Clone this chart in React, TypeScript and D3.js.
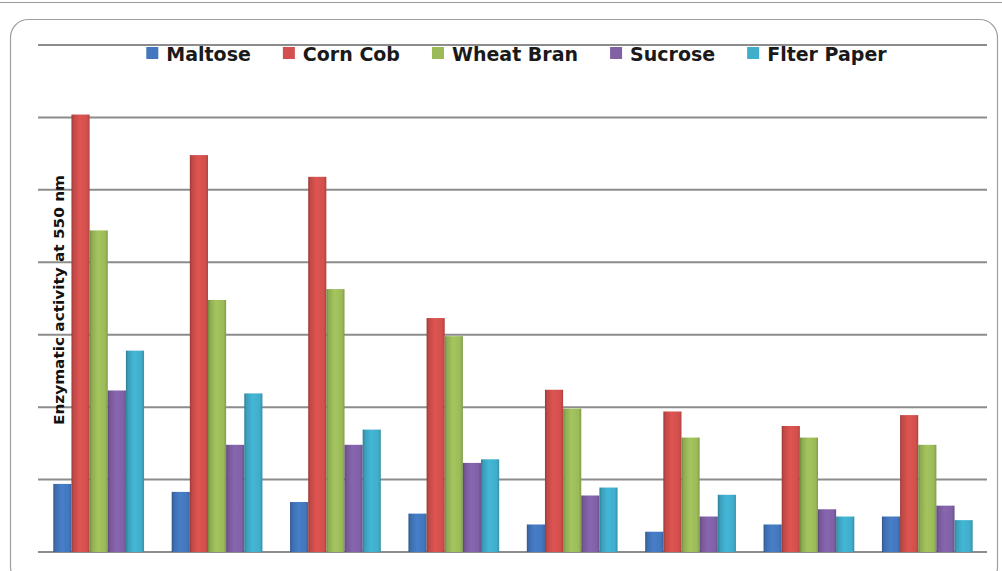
import React, { useEffect, useRef } from "react";
import * as d3 from "d3";

// Substrates tested (legend order / bar order within each group)
const series = ["Maltose", "Corn Cob", "Wheat Bran", "Sucrose", "Flter Paper"];
const seriesColors = ["#4377BE", "#D2504D", "#9BBB59", "#8061A6", "#40ADCB"];

// Eight sampling points along the x axis (unlabelled in the figure)
const groups = ["1", "2", "3", "4", "5", "6", "7", "8"];

// Enzymatic activity at 550 nm, one array per substrate
const maltose = [0.94, 0.83, 0.69, 0.53, 0.38, 0.28, 0.38, 0.49];
const cornCob = [6.04, 5.48, 5.18, 3.23, 2.24, 1.94, 1.74, 1.89];
const wheatBran = [4.44, 3.48, 3.63, 2.98, 1.98, 1.58, 1.58, 1.48];
const sucrose = [2.23, 1.48, 1.48, 1.23, 0.78, 0.49, 0.59, 0.64];
const filterPaper = [2.78, 2.19, 1.69, 1.28, 0.89, 0.79, 0.49, 0.44];

const values = [maltose, cornCob, wheatBran, sucrose, filterPaper];

// Horizontal gridline values
const gridTicks = [0, 1, 2, 3, 4, 5, 6, 7];

const W = 1002;
const H = 571;

export default function App() {
  const ref = useRef<SVGSVGElement | null>(null);

  useEffect(() => {
    const svg = d3.select(ref.current);
    svg.selectAll("*").remove();

    const left = 38;
    const right = 987;
    const top = 45;
    const bottom = 552;

    const defs = svg.append("defs");
    seriesColors.forEach((c, i) => {
      const base = d3.color(c)!;
      const g = defs
        .append("linearGradient")
        .attr("id", `bar-grad-${i}`)
        .attr("x1", "0")
        .attr("x2", "1")
        .attr("y1", "0")
        .attr("y2", "0");
      g.append("stop").attr("offset", "0").attr("stop-color", base.darker(0.9).formatHex());
      g.append("stop").attr("offset", "0.12").attr("stop-color", base.darker(0.25).formatHex());
      g.append("stop").attr("offset", "0.45").attr("stop-color", base.brighter(0.15).formatHex());
      g.append("stop").attr("offset", "0.85").attr("stop-color", base.formatHex());
      g.append("stop").attr("offset", "1").attr("stop-color", base.darker(0.5).formatHex());
    });

    // Frame: thin rule at the very top and a rounded chart border
    svg
      .append("line")
      .attr("x1", 0)
      .attr("x2", W)
      .attr("y1", 2.5)
      .attr("y2", 2.5)
      .attr("stroke", "#9a9a9a")
      .attr("stroke-width", 1.2);
    svg
      .append("rect")
      .attr("x", 10.5)
      .attr("y", 19.5)
      .attr("width", 987)
      .attr("height", 565)
      .attr("rx", 18)
      .attr("fill", "none")
      .attr("stroke", "#a0a0a0")
      .attr("stroke-width", 1.2);

    const x0 = d3.scaleBand<string>().domain(groups).range([left + 1.5, right - 0.5]).paddingInner(0).paddingOuter(0);
    const groupStep = x0.bandwidth();
    const barW = 18.15;
    const clusterW = barW * series.length;
    const x1 = d3
      .scaleBand<string>()
      .domain(series)
      .range([(groupStep - clusterW) / 2, (groupStep + clusterW) / 2])
      .padding(0);

    const y = d3.scaleLinear().domain([0, 7]).range([bottom, top]);

    // Gridlines
    svg
      .append("g")
      .selectAll("line")
      .data(gridTicks)
      .join("line")
      .attr("x1", left)
      .attr("x2", right)
      .attr("y1", (d) => y(d))
      .attr("y2", (d) => y(d))
      .attr("stroke", "#8c8c8c")
      .attr("stroke-width", 2);

    // Bars
    const gGroups = svg
      .append("g")
      .selectAll("g")
      .data(groups)
      .join("g")
      .attr("transform", (d) => `translate(${x0(d)},0)`);

    gGroups
      .selectAll("rect")
      .data((_, gi) => series.map((s, si) => ({ s, si, v: values[si][gi] })))
      .join("rect")
      .attr("x", (d) => x1(d.s)!)
      .attr("width", x1.bandwidth())
      .attr("y", (d) => y(d.v))
      .attr("height", (d) => y(0) - y(d.v))
      .attr("fill", (d) => `url(#bar-grad-${d.si})`);

    // Y axis title
    svg
      .append("text")
      .attr("transform", `translate(64,300) rotate(-90)`)
      .attr("text-anchor", "middle")
      .attr("font-family", "DejaVu Sans, sans-serif")
      .attr("font-weight", "bold")
      .attr("font-size", 13.5)
      .attr("textLength", 250)
      .attr("lengthAdjust", "spacingAndGlyphs")
      .attr("fill", "#111")
      .text("Enzymatic activity at 550 nm");

    // Legend, laid out left to right and centred over the plot
    const legend = svg.append("g");
    const items = legend
      .selectAll("g")
      .data(series)
      .join("g");
    items
      .append("rect")
      .attr("width", 12)
      .attr("height", 12)
      .attr("y", 47)
      .attr("fill", (_, i) => seriesColors[i]);
    const texts = items
      .append("text")
      .attr("x", 20)
      .attr("y", 60.5)
      .attr("font-family", "DejaVu Sans, sans-serif")
      .attr("font-weight", "bold")
      .attr("font-size", 19)
      .attr("fill", "#1a1a1a")
      .text((d) => d);

    const widths: number[] = [];
    texts.each(function () {
      widths.push((this as SVGTextElement).getComputedTextLength());
    });
    const gap = 32;
    const itemW = widths.map((w) => 20 + w);
    const total = d3.sum(itemW) + gap * (series.length - 1);
    let cx = 516.5 - total / 2;
    items.attr("transform", (_, i) => {
      const t = `translate(${cx},0)`;
      cx += itemW[i] + gap;
      return t;
    });
  }, []);

  return (
    <svg
      ref={ref}
      width={W}
      height={H}
      style={{ position: "absolute", left: 0, top: 0, background: "#fff" }}
    />
  );
}
